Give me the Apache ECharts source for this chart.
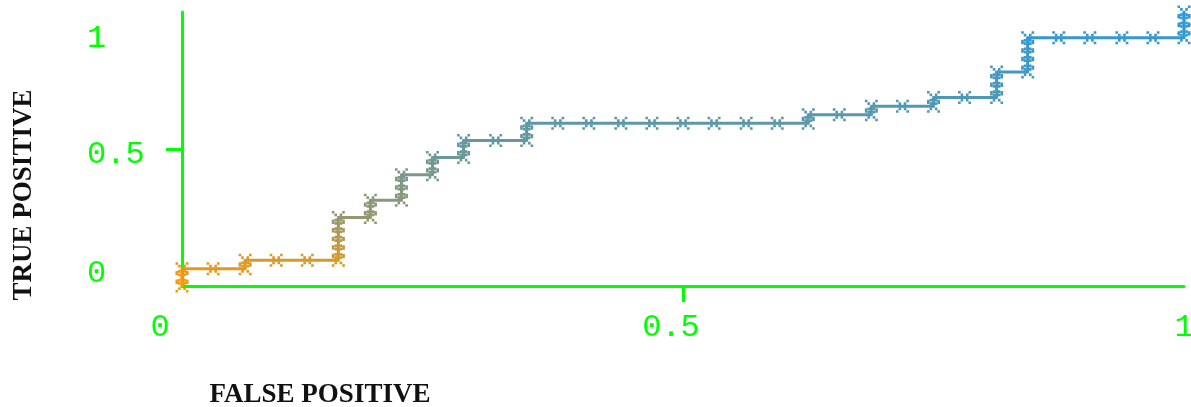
<!DOCTYPE html>
<html>
<head>
<meta charset="utf-8">
<script src="https://cdn.jsdelivr.net/npm/echarts@6/dist/echarts.min.js"></script>
<style>
html,body{margin:0;padding:0;background:#fff;}
#chart{width:1191px;height:407px;}
</style>
</head>
<body>
<div id="chart"></div>
<script>
// False positive rate of each ROC point
var fpr = [0,0,0,0.031,0.063,0.063,0.094,0.125,0.156,0.156,0.156,0.156,0.156,0.156,0.188,0.188,0.188,0.219,0.219,0.219,0.219,0.25,0.25,0.25,0.281,0.281,0.281,0.313,0.344,0.344,0.344,0.375,0.406,0.438,0.469,0.5,0.531,0.563,0.594,0.625,0.625,0.656,0.688,0.688,0.719,0.75,0.75,0.781,0.813,0.813,0.813,0.813,0.844,0.844,0.844,0.844,0.844,0.875,0.906,0.938,0.969,1,1,1,1];
// True positive rate of each ROC point
var tpr = [0,0.031,0.063,0.063,0.063,0.094,0.094,0.094,0.094,0.125,0.156,0.188,0.219,0.25,0.25,0.281,0.313,0.313,0.344,0.375,0.406,0.406,0.438,0.469,0.469,0.5,0.531,0.531,0.531,0.563,0.594,0.594,0.594,0.594,0.594,0.594,0.594,0.594,0.594,0.594,0.625,0.625,0.625,0.656,0.656,0.656,0.688,0.688,0.688,0.719,0.75,0.781,0.781,0.813,0.844,0.875,0.906,0.906,0.906,0.906,0.906,0.906,0.938,0.969,1];
// Tick labels
var xTickLabels = [0, 0.5, 1];
var yTickLabels = [0, 0.5, 1];
var xTicks = [0.5];
var yTicks = [0.5];

var points = fpr.map(function (x, i) { return [x, tpr[i]]; });

var GREEN = '#00ff00';
var chart = echarts.init(document.getElementById('chart'), null, {renderer: 'canvas'});

var xmarkPath = 'path://M0,0h3v3h-3z M12,0h3v3h-3z M3,3h3v3h-3z M9,3h3v3h-3z M6,6h3v3h-3z M3,9h3v3h-3z M9,9h3v3h-3z M0,12h3v3h-3z M12,12h3v3h-3z';

chart.setOption({
  backgroundColor: '#ffffff',
  animation: false,
  grid: {left: 182, top: 12, width: 1002, height: 274, containLabel: false, outerBoundsMode: 'none'},
  visualMap: {
    type: 'continuous', show: false, dimension: 1, min: 0, max: 1,
    inRange: {color: ['#ff9900', '#94986e', '#68989b', '#4698be', '#2a98dc']}
  },
  xAxis: {
    type: 'value', min: 0, max: 1,
    name: 'FALSE POSITIVE', nameLocation: 'middle', nameGap: 96,
    nameTextStyle: {fontFamily: 'Liberation Serif', fontWeight: 'bold', fontSize: 27, color: '#111', padding: [0, 726, 0, 0]},
    axisLine: {show: true, lineStyle: {color: GREEN, width: 3}},
    axisTick: {show: true, customValues: xTicks, length: 16, lineStyle: {color: GREEN, width: 3}},
    splitLine: {show: false},
    axisLabel: {
      customValues: xTickLabels, margin: 26,
      fontFamily: 'Liberation Mono', fontSize: 32, color: GREEN,
      formatter: function (v) {
        if (v === 0) return '{a|0}';
        if (v === 0.5) return '{b|0.5}';
        return '{c|1}';
      },
      rich: {
        a: {fontFamily: 'Liberation Mono', fontSize: 32, color: GREEN, padding: [0, 44, 0, 0]},
        b: {fontFamily: 'Liberation Mono', fontSize: 32, color: GREEN, padding: [0, 24, 0, 0]},
        c: {fontFamily: 'Liberation Mono', fontSize: 32, color: GREEN}
      }
    }
  },
  yAxis: {
    type: 'value', min: 0, max: 1,
    name: 'TRUE POSITIVE', nameLocation: 'middle', nameGap: 144,
    nameTextStyle: {fontFamily: 'Liberation Serif', fontWeight: 'bold', fontSize: 27, color: '#111', padding: [0, 92, 0, 0]},
    axisLine: {show: true, lineStyle: {color: GREEN, width: 3}},
    axisTick: {show: true, customValues: yTicks, length: 16, lineStyle: {color: GREEN, width: 3}},
    splitLine: {show: false},
    axisLabel: {
      customValues: yTickLabels, margin: 95, align: 'left',
      fontFamily: 'Liberation Mono', fontSize: 32, color: GREEN,
      formatter: function (v) {
        if (v === 0) return '{a|0}';
        if (v === 0.5) return '{b|0.5}';
        return '{c|1}';
      },
      rich: {
        a: {fontFamily: 'Liberation Mono', fontSize: 32, color: GREEN, padding: [0, 0, 24, 0]},
        b: {fontFamily: 'Liberation Mono', fontSize: 32, color: GREEN, padding: [12, 0, 0, 0]},
        c: {fontFamily: 'Liberation Mono', fontSize: 32, color: GREEN, padding: [54, 0, 0, 0]}
      }
    }
  },
  series: [{
    type: 'line',
    data: points,
    symbol: xmarkPath,
    symbolSize: 13,
    showAllSymbol: true,
    clip: false,
    lineStyle: {width: 3},
    z: 3
  }]
});
</script>
</body>
</html>
